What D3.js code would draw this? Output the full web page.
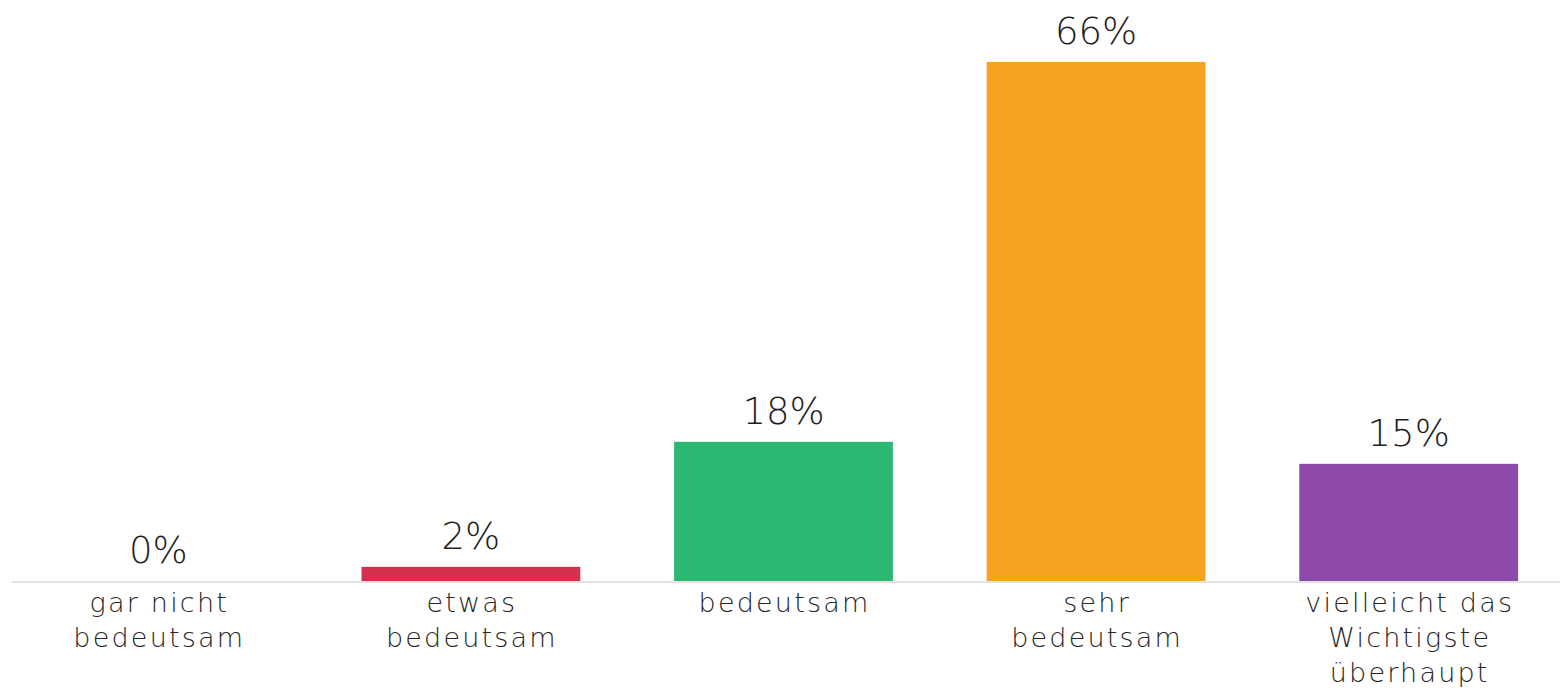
<!DOCTYPE html>
<html>
<head>
<meta charset="utf-8">
<script src="https://cdn.jsdelivr.net/npm/d3@7"></script>
<style>
  body { margin: 0; background: #fff; }
  svg { display: block; }
  .tick text { font-family: 'DejaVu Sans', sans-serif; font-weight: 200; fill: #262626; letter-spacing: 2.2px; }
</style>
</head>
<body>
<div id="chart"></div>
<script>
let categories = ['gar nicht\nbedeutsam', 'etwas\nbedeutsam', 'bedeutsam', 'sehr\nbedeutsam', 'vielleicht das\nWichtigste\nüberhaupt']
let values = [0, 1.8, 17.7, 66, 14.9]
let labels = ['0%', '2%', '18%', '66%', '15%']
let colors = ['#d6304f', '#d6304f', '#2cb872', '#f4a21f', '#8e4aab']

let width = 1560
let height = 690
let baseY = 581

let svg = d3.select('#chart').append('svg')
  .attr('width', width)
  .attr('height', height)

let x = d3.scaleBand()
  .domain(categories)
  .range([2, 1565])
  .paddingInner(0.3)
  .paddingOuter(0.15)

let y = d3.scaleLinear()
  .domain([0, 66])
  .range([baseY, 62])

// baseline
svg.append('line')
  .attr('x1', 12)
  .attr('x2', width)
  .attr('y1', baseY + 1)
  .attr('y2', baseY + 1)
  .style('stroke', '#e2e2e2')
  .style('stroke-width', 2)

svg.selectAll('.bar')
  .data(values)
  .enter().append('rect')
  .attr('class', 'bar')
  .attr('x', (d, i) => x(categories[i]))
  .attr('width', x.bandwidth())
  .attr('y', d => y(d))
  .attr('height', d => baseY - y(d))
  .style('fill', (d, i) => colors[i])

svg.selectAll('.value')
  .data(values)
  .enter().append('text')
  .attr('class', 'value')
  .attr('x', (d, i) => x(categories[i]) + x.bandwidth() / 2)
  .attr('y', d => y(d) - 18)
  .attr('text-anchor', 'middle')
  .style('font-family', "'DejaVu Sans', sans-serif")
  .style('font-weight', 200)
  .style('font-size', '37px')
  .style('fill', '#1e1e1e')
  .text((d, i) => labels[i])

let axis = svg.append('g')
  .attr('transform', 'translate(0,' + baseY + ')')
  .call(d3.axisBottom(x).tickSize(0).tickFormat(''))

axis.select('.domain').remove()

axis.selectAll('.tick').each(function (d) {
  let t = d3.select(this).select('text')
    .attr('y', 0)
    .attr('dy', null)
    .style('font-size', '27px')
  d.split('\n').forEach((line, i) => {
    t.append('tspan')
      .attr('x', 1)
      .attr('y', 31 + i * 35)
      .text(line)
  })
})
</script>
</body>
</html>
